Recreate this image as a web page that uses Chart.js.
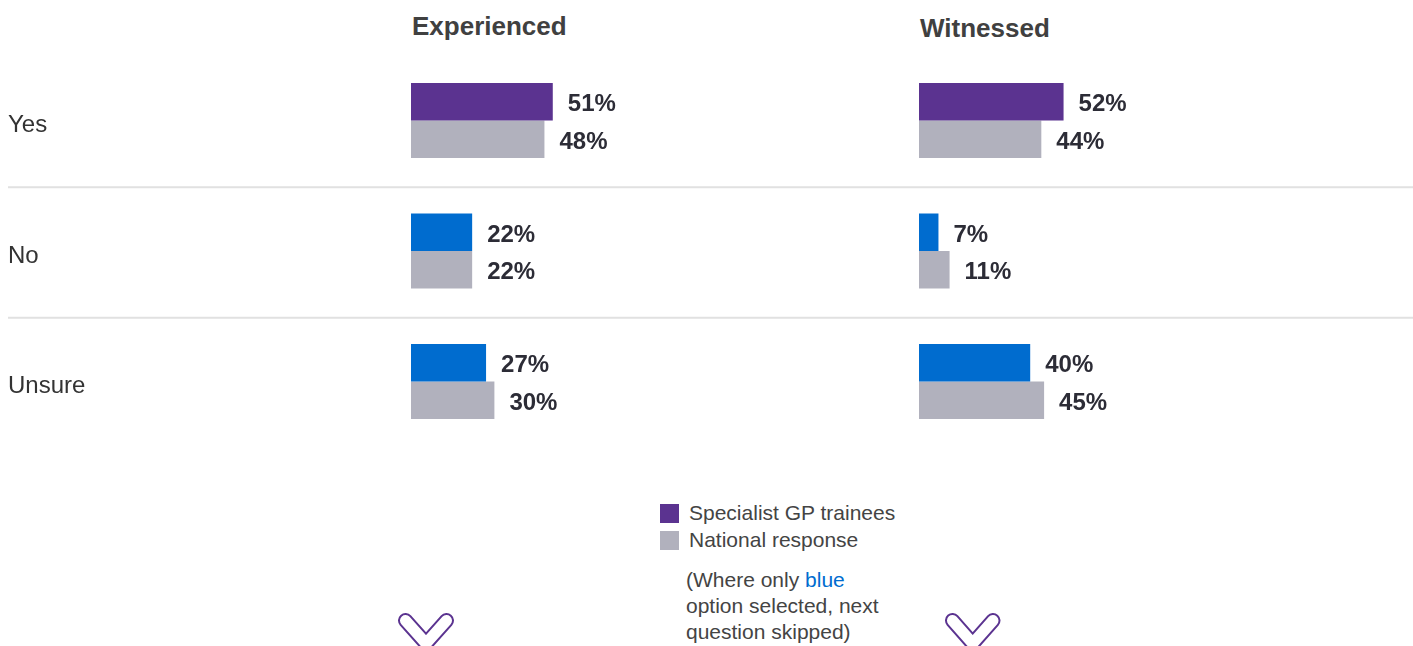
<!DOCTYPE html>
<html lang="en">
<head>
<meta charset="utf-8">
<title>Experienced / Witnessed</title>
<script src="https://cdn.jsdelivr.net/npm/chart.js@4.4.0/dist/chart.umd.min.js"></script>
<style>
    html, body {
        margin: 0;
        padding: 0;
        background: #ffffff;
        overflow: hidden;
    }
    .page {
        position: relative;
        width: 1413px;
        height: 646px;
        font-family: 'Liberation Sans', Arial, Helvetica, sans-serif;
    }
    .panel {
        position: absolute;
        top: 0;
        height: 490px;
    }
    .panel-title {
        position: absolute;
        font-size: 26px;
        font-weight: bold;
        line-height: 26px;
        color: #404040;
        white-space: nowrap;
    }
    .legend {
        position: absolute;
        left: 660px;
        top: 500px;
        font-size: 21px;
        color: #444444;
    }
    .legend-item {
        display: flex;
        align-items: center;
        height: 26.7px;
        line-height: 26.7px;
        white-space: nowrap;
    }
    .legend-swatch {
        width: 19px;
        height: 19px;
        margin-right: 10px;
    }
    .note {
        position: absolute;
        left: 686px;
        top: 566.5px;
        font-size: 21px;
        line-height: 26px;
        color: #444444;
        white-space: nowrap;
    }
    .note .blue {
        color: #006ccf;
    }
    .chevrons {
        position: absolute;
        left: 0;
        top: 0;
        pointer-events: none;
    }
</style>
</head>
<body>
<div class="page">
    <div class="panel-title" style="left: 412px; top: 13px;">Experienced</div>
    <div class="panel-title" style="left: 920px; top: 15px;">Witnessed</div>

    <div class="panel" style="left: 0; width: 919px;">
        <canvas id="experiencedChart"></canvas>
    </div>
    <div class="panel" style="left: 919px; width: 494px;">
        <canvas id="witnessedChart"></canvas>
    </div>

    <div class="legend">
        <div class="legend-item"><span class="legend-swatch" style="background: #5b3390;"></span>Specialist GP trainees</div>
        <div class="legend-item"><span class="legend-swatch" style="background: #b1b1bd;"></span>National response</div>
    </div>
    <div class="note">(Where only <span class="blue">blue</span><br>option selected, next<br>question skipped)</div>

    <svg class="chevrons" width="1413" height="646">
        <g fill="none" stroke-linecap="round" stroke-linejoin="round">
            <path d="M405.5 620.5 L426 643.5 L446.5 620.5" stroke="#5b3390" stroke-width="15"/>
            <path d="M405.5 620.5 L426 643.5 L446.5 620.5" stroke="#ffffff" stroke-width="11"/>
            <path d="M952.5 620.5 L972.7 643.5 L993 620.5" stroke="#5b3390" stroke-width="15"/>
            <path d="M952.5 620.5 L972.7 643.5 L993 620.5" stroke="#ffffff" stroke-width="11"/>
        </g>
    </svg>
</div>

<script>
// Survey answers, percent of respondents
const categories = ['Yes', 'No', 'Unsure'];
const experiencedTrainees = [51, 22, 27];
const experiencedNational = [48, 22, 30];
const witnessedTrainees = [52, 7, 40];
const witnessedNational = [44, 11, 45];

// Trainee bars: purple for "Yes", blue for the other answers
const traineeColours = ['#5b3390', '#006ccf', '#006ccf'];
const nationalColour = '#b1b1bd';

const FONT_FAMILY = "'Liberation Sans', Arial, Helvetica, sans-serif";

// Percentage printed just past the end of each bar
const valueLabels = {
    id: 'valueLabels',
    afterDatasetsDraw(chart) {
        const ctx = chart.ctx;
        ctx.save();
        ctx.font = 'bold 24px ' + FONT_FAMILY;
        ctx.fillStyle = '#2c2c36';
        ctx.textAlign = 'left';
        ctx.textBaseline = 'middle';
        chart.data.datasets.forEach((dataset, i) => {
            chart.getDatasetMeta(i).data.forEach((bar, j) => {
                ctx.fillText(dataset.data[j] + '%', bar.x + 15, bar.y + 3);
            });
        });
        ctx.restore();
    }
};

// Thin grey rules between the answer rows
const rowDividers = {
    id: 'rowDividers',
    beforeDatasetsDraw(chart) {
        const yScale = chart.scales.y;
        const ctx = chart.ctx;
        const startX = chart.options.layout.padding.left || 0;
        ctx.save();
        ctx.strokeStyle = '#e1e1e1';
        ctx.lineWidth = 2;
        for (let i = 0; i < categories.length - 1; i++) {
            const y = (yScale.getPixelForValue(i) + yScale.getPixelForValue(i + 1)) / 2 + 1.5;
            ctx.beginPath();
            ctx.moveTo(startX, y);
            ctx.lineTo(chart.width, y);
            ctx.stroke();
        }
        ctx.restore();
    }
};

function buildChart(canvas, trainees, national, showRowLabels, padding) {
    return new Chart(canvas, {
        type: 'bar',
        data: {
            labels: categories,
            datasets: [
                {
                    label: 'Specialist GP trainees',
                    data: trainees,
                    backgroundColor: traineeColours,
                    borderWidth: 0
                },
                {
                    label: 'National response',
                    data: national,
                    backgroundColor: nationalColour,
                    borderWidth: 0
                }
            ]
        },
        options: {
            indexAxis: 'y',
            responsive: true,
            maintainAspectRatio: false,
            animation: false,
            categoryPercentage: 0.575,
            barPercentage: 1,
            layout: { padding: padding },
            plugins: {
                legend: { display: false },
                tooltip: { enabled: false }
            },
            scales: {
                x: {
                    display: false,
                    min: 0,
                    max: 100
                },
                y: {
                    display: showRowLabels,
                    grid: { display: false },
                    border: { display: false },
                    ticks: {
                        crossAlign: 'far',
                        labelOffset: 5,
                        color: '#333333',
                        font: { family: FONT_FAMILY, size: 24 }
                    },
                    afterFit: function(scale) {
                        // row labels sit in a fixed-width column on the left
                        if (showRowLabels) {
                            scale.width = 403;
                        }
                    }
                }
            }
        },
        plugins: [rowDividers, valueLabels]
    });
}

document.addEventListener('DOMContentLoaded', function() {
    buildChart(
        document.getElementById('experiencedChart'),
        experiencedTrainees,
        experiencedNational,
        true,
        { left: 8, right: 230, top: 55.25, bottom: 43.25 }
    );
    buildChart(
        document.getElementById('witnessedChart'),
        witnessedTrainees,
        witnessedNational,
        false,
        { left: 0, right: 216, top: 55.25, bottom: 43.25 }
    );
});
</script>
</body>
</html>
